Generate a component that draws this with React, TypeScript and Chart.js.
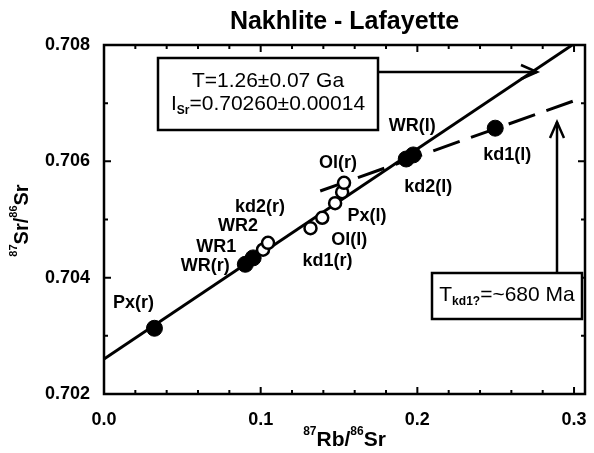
import React, { useEffect, useRef } from "react";
import { Chart, registerables } from "chart.js";

Chart.register(...registerables);

const FONT = '"Liberation Sans", Arial, Helvetica, sans-serif';

// ---- data ----
const filledNames = ["Px(r)", "WR(r)", "WR1", "WR(l)", "kd2(l)", "kd1(l)"];
const filledX = [0.0322, 0.0902, 0.0952, 0.1974, 0.1929, 0.2497];
const filledY = [0.70313, 0.70423, 0.70434, 0.70611, 0.70604, 0.70657];

const openNames = ["WR2", "kd2(r)", "kd1(r)", "Ol(l)", "Px(l)", "", "Ol(r)"];
const openX = [0.1015, 0.1047, 0.1318, 0.1393, 0.1475, 0.152, 0.1532];
const openY = [0.70448, 0.7046, 0.70485, 0.70503, 0.70528, 0.70547, 0.70563];

const isochronX = [0.0, 0.3];
const isochronY = [0.7026, 0.70802];

const kdLineX = [0.138, 0.301];
const kdLineY = [0.70549, 0.70705];

const xTickValues = [0.0, 0.1, 0.2, 0.3];
const xMinorTicks = [0.02, 0.04, 0.06, 0.08, 0.12, 0.14, 0.16, 0.18, 0.22, 0.24, 0.26, 0.28];
const yTickValues = [0.702, 0.704, 0.706, 0.708];
const yMinorTicks = [0.703, 0.705, 0.707];

const titleText = "Nakhlite - Lafayette";

// label offsets (pixels from the point), layout only
const labelOffsets: Record<string, [number, number]> = {
  "Px(r)": [-21, -25],
  "WR(r)": [-40, 2],
  "WR1": [-37, -11],
  "WR2": [-25, -24],
  "kd2(r)": [-8, -36],
  "kd1(r)": [17, 33],
  "Ol(l)": [27, 22],
  "Px(l)": [32, 13],
  "Ol(r)": [-6, -20],
  "WR(l)": [-1, -29],
  "kd2(l)": [22, 28],
  "kd1(l)": [12, 27],
};

type Part = { t: string; s?: "sup" | "sub" };

function drawParts(ctx: CanvasRenderingContext2D, parts: Part[], cx: number, cy: number, main: string, small: string, mainSize: number) {
  const widths = parts.map((p) => {
    ctx.font = p.s ? small : main;
    return ctx.measureText(p.t).width;
  });
  const total = widths.reduce((a, b) => a + b, 0);
  let x = cx - total / 2;
  ctx.textBaseline = "middle";
  ctx.textAlign = "left";
  parts.forEach((p, i) => {
    ctx.font = p.s ? small : main;
    let dy = 0;
    if (p.s === "sup") dy = -mainSize * 0.38;
    if (p.s === "sub") dy = mainSize * 0.3;
    ctx.fillText(p.t, x, cy + dy);
    x += widths[i];
  });
}

function arrowHead(ctx: CanvasRenderingContext2D, x: number, y: number, dir: "right" | "up") {
  ctx.beginPath();
  if (dir === "right") {
    ctx.moveTo(x - 16, y - 7);
    ctx.lineTo(x, y);
    ctx.lineTo(x - 16, y + 7);
  } else {
    ctx.moveTo(x - 7, y + 16);
    ctx.lineTo(x, y);
    ctx.lineTo(x + 7, y + 16);
  }
  ctx.stroke();
}

export default function App() {
  const ref = useRef<HTMLCanvasElement>(null);

  useEffect(() => {
    const canvas = ref.current;
    if (!canvas) return;

    const annot = {
      id: "annot",
      afterDatasetsDraw(chart: any) {
        const ctx: CanvasRenderingContext2D = chart.ctx;
        const a = chart.chartArea;
        const xs = chart.scales.x;
        const ys = chart.scales.y;
        ctx.save();
        ctx.fillStyle = "#000";
        ctx.strokeStyle = "#000";

        // point labels
        ctx.font = `bold 18px ${FONT}`;
        ctx.textAlign = "center";
        ctx.textBaseline = "middle";
        const drawLabels = (dsIndex: number, names: string[]) => {
          const meta = chart.getDatasetMeta(dsIndex);
          names.forEach((n, i) => {
            if (!n) return;
            const el = meta.data[i];
            const off = labelOffsets[n] || [0, -20];
            ctx.fillText(n, el.x + off[0], el.y + off[1]);
          });
        };
        drawLabels(2, filledNames);
        drawLabels(3, openNames);

        // frame
        ctx.lineWidth = 2.5;
        ctx.strokeRect(a.left, a.top, a.right - a.left, a.bottom - a.top);

        // inward ticks on all sides
        ctx.lineWidth = 2;
        const tickX = (v: number, len: number) => {
          const px = xs.getPixelForValue(v);
          ctx.beginPath();
          ctx.moveTo(px, a.bottom);
          ctx.lineTo(px, a.bottom - len);
          ctx.moveTo(px, a.top);
          ctx.lineTo(px, a.top + len);
          ctx.stroke();
        };
        const tickY = (v: number, len: number) => {
          const py = ys.getPixelForValue(v);
          ctx.beginPath();
          ctx.moveTo(a.left, py);
          ctx.lineTo(a.left + len, py);
          ctx.moveTo(a.right, py);
          ctx.lineTo(a.right - len, py);
          ctx.stroke();
        };
        xTickValues.forEach((v) => tickX(v, 7));
        xMinorTicks.forEach((v) => tickX(v, 4));
        yTickValues.forEach((v) => tickY(v, 7));
        yMinorTicks.forEach((v) => tickY(v, 4));

        // title
        ctx.font = `bold 25px ${FONT}`;
        ctx.textAlign = "center";
        ctx.textBaseline = "middle";
        ctx.fillText(titleText, (a.left + a.right) / 2, 22);

        // x axis title
        drawParts(
          ctx,
          [{ t: "87", s: "sup" }, { t: "Rb/" }, { t: "86", s: "sup" }, { t: "Sr" }],
          (a.left + a.right) / 2,
          440,
          `bold 21px ${FONT}`,
          `bold 12px ${FONT}`,
          21
        );
        // y axis title
        ctx.save();
        ctx.translate(22, (a.top + a.bottom) / 2 + 1);
        ctx.rotate(-Math.PI / 2);
        drawParts(
          ctx,
          [{ t: "87", s: "sup" }, { t: "Sr/" }, { t: "86", s: "sup" }, { t: "Sr" }],
          0,
          0,
          `bold 20px ${FONT}`,
          `bold 11px ${FONT}`,
          20
        );
        ctx.restore();

        // box 1
        ctx.lineWidth = 2.5;
        ctx.fillStyle = "#fff";
        ctx.fillRect(158, 58, 220, 72);
        ctx.fillStyle = "#000";
        ctx.strokeRect(158, 58, 220, 72);
        drawParts(ctx, [{ t: "T=1.26±0.07 Ga" }], 268, 81, `21px ${FONT}`, `13px ${FONT}`, 21);
        drawParts(
          ctx,
          [{ t: "I" }, { t: "Sr", s: "sub" }, { t: "=0.70260±0.00014" }],
          268,
          104,
          `21px ${FONT}`,
          `bold 12px ${FONT}`,
          21
        );
        // arrow 1
        ctx.beginPath();
        ctx.moveTo(378, 72);
        ctx.lineTo(537, 72);
        ctx.stroke();
        arrowHead(ctx, 537, 72, "right");

        // box 2
        ctx.fillStyle = "#fff";
        ctx.fillRect(432, 273, 150, 46);
        ctx.fillStyle = "#000";
        ctx.strokeRect(432, 273, 150, 46);
        drawParts(
          ctx,
          [{ t: "T" }, { t: "kd1?", s: "sub" }, { t: "=~680 Ma" }],
          507,
          295,
          `21px ${FONT}`,
          `bold 12px ${FONT}`,
          21
        );
        // arrow 2
        ctx.beginPath();
        ctx.moveTo(557, 273);
        ctx.lineTo(557, 122);
        ctx.stroke();
        arrowHead(ctx, 557, 122, "up");

        ctx.restore();
      },
    };

    const chart = new Chart(canvas, {
      type: "scatter",
      data: {
        datasets: [
          {
            label: "isochron",
            data: isochronX.map((x, i) => ({ x, y: isochronY[i] })),
            showLine: true,
            borderColor: "#000",
            borderWidth: 3,
            pointRadius: 0,
            order: 3,
          },
          {
            label: "kd line",
            data: kdLineX.map((x, i) => ({ x, y: kdLineY[i] })),
            showLine: true,
            borderColor: "#000",
            borderWidth: 3,
            borderDash: [28, 12],
            pointRadius: 0,
            order: 3,
          },
          {
            label: "filled",
            data: filledX.map((x, i) => ({ x, y: filledY[i] })),
            pointRadius: 8,
            pointBackgroundColor: "#000",
            pointBorderColor: "#000",
            pointBorderWidth: 1,
            order: 1,
          },
          {
            label: "open",
            data: openX.map((x, i) => ({ x, y: openY[i] })),
            pointRadius: 6,
            pointBackgroundColor: "#fff",
            pointBorderColor: "#000",
            pointBorderWidth: 2.5,
            order: 0,
          },
        ],
      },
      options: {
        animation: false,
        responsive: false,
        devicePixelRatio: 1,
        events: [],
        layout: { padding: { top: 45, right: 3, left: 0, bottom: 0 } },
        plugins: {
          legend: { display: false },
          tooltip: { enabled: false },
          title: { display: false },
        },
        scales: {
          x: {
            type: "linear",
            min: 0,
            max: 0.307,
            grid: { display: false },
            border: { display: false },
            afterBuildTicks: (s: any) => {
              s.ticks = xTickValues.map((v) => ({ value: v }));
            },
            afterFit: (s: any) => {
              s.height = 59;
              s.paddingLeft = 0;
              s.paddingRight = 0;
            },
            ticks: {
              color: "#000",
              font: { family: FONT, size: 18, weight: "bold" },
              padding: 7,
              maxRotation: 0,
              callback: (v: any) => Number(v).toFixed(1),
            },
          },
          y: {
            type: "linear",
            min: 0.702,
            max: 0.708,
            grid: { display: false },
            border: { display: false },
            afterBuildTicks: (s: any) => {
              s.ticks = yTickValues.map((v) => ({ value: v }));
            },
            afterFit: (s: any) => {
              s.width = 104;
              s.paddingTop = 0;
              s.paddingBottom = 0;
            },
            ticks: {
              color: "#000",
              font: { family: FONT, size: 18, weight: "bold" },
              padding: 6,
              callback: (v: any) => Number(v).toFixed(3),
            },
          },
        },
      },
      plugins: [annot],
    } as any);

    return () => chart.destroy();
  }, []);

  return (
    <div style={{ position: "absolute", left: 0, top: 0, width: 594, height: 453, background: "#fff" }}>
      <canvas ref={ref} width={594} height={453} style={{ display: "block" }} />
    </div>
  );
}
